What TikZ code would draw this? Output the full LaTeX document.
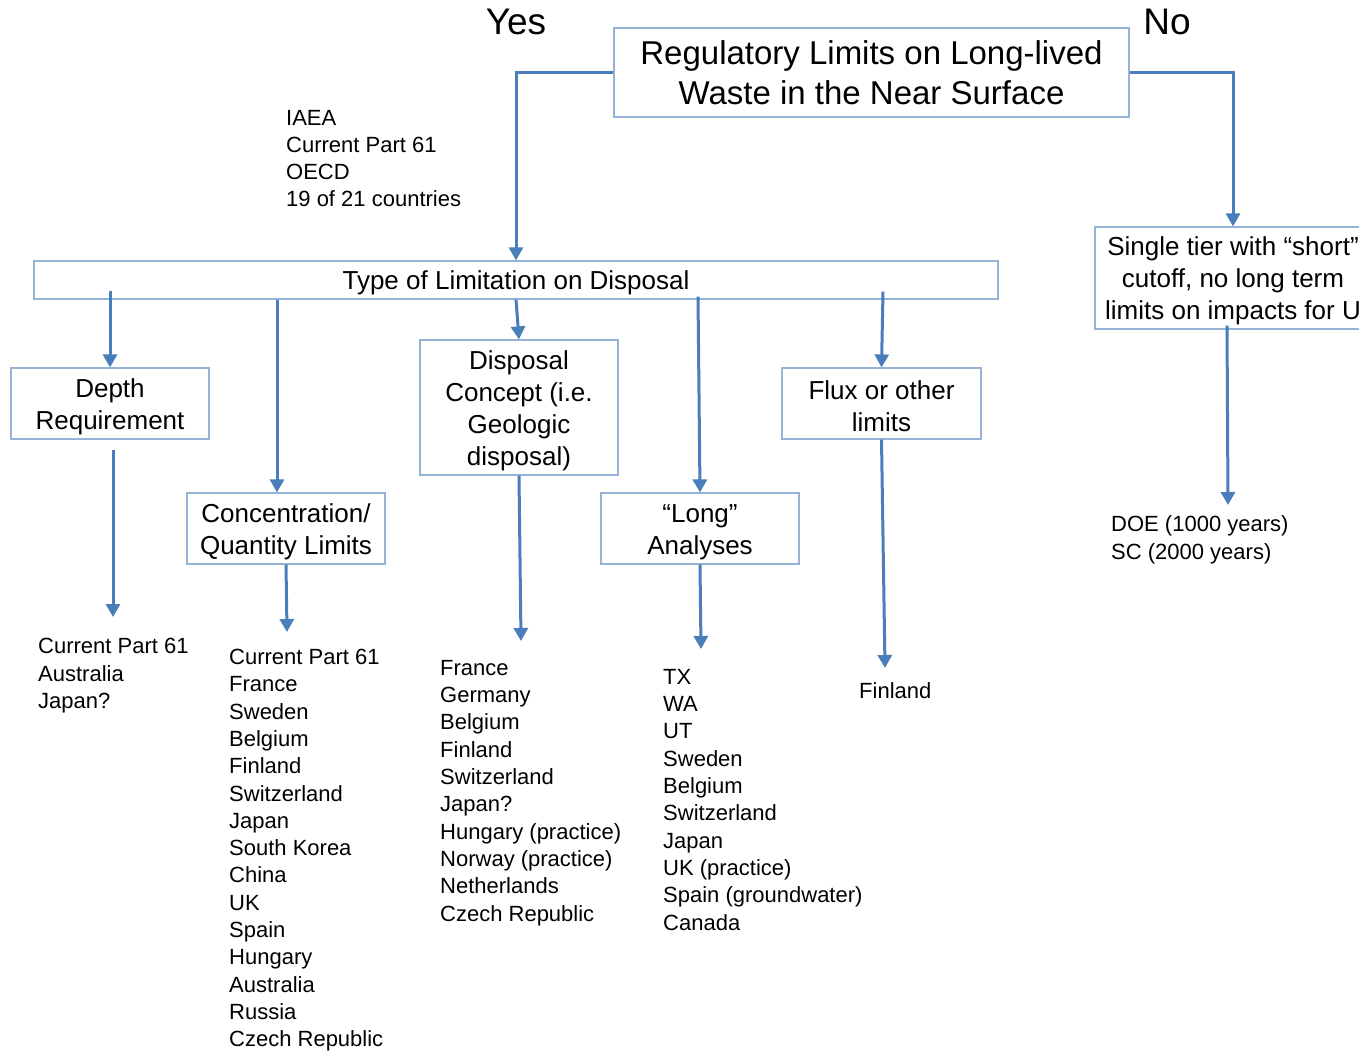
\documentclass[tikz,border=0pt]{standalone}
\usepackage{fontspec}
\setmainfont{Liberation Sans}
\usetikzlibrary{arrows.meta,calc}
\definecolor{boxc}{HTML}{95B3D7}
\definecolor{arrc}{HTML}{4A7EBB}
\newcommand{\tpad}{\rule{0pt}{25pt}}
\begin{document}
\begin{tikzpicture}[x=1pt,y=-1pt,
  box/.style={draw=boxc, line width=1.2pt, fill=white, inner sep=0pt, align=center,
    minimum width=198pt, minimum height=71pt, font=\fontsize{26}{32}\selectfont},
  lst/.style={anchor=north west, inner sep=0pt, align=left, font=\fontsize{22}{27.3}\selectfont},
  arr/.style={draw=arrc, line width=3pt, -{Triangle[width=14pt,length=13pt]}},
  big/.style={font=\fontsize{37}{44}\selectfont, inner sep=0pt}]
\useasboundingbox (0,0) rectangle (1359,1050);
\fill[white] (0,0) rectangle (1359,1050);
\clip (0,0) rectangle (1359,1050);

% labels
\node[big] (yes) at (516,22) {Yes};
\node[big] (no) at (1167,22) {No};

% boxes
\node[box, minimum width=515pt, minimum height=89pt, font=\fontsize{33}{40}\selectfont] (top) at (871.5,72.5)
  {Regulatory Limits on Long-lived\\Waste in the Near Surface};
\node[box, minimum width=964pt, minimum height=38pt] (type) at (516,280) {\tpad Type of Limitation on Disposal};
\node[box] (depth) at (110,403.5) {\tpad Depth\\Requirement};
\node[box] (conc) at (286,528.5) {\tpad Concentration/\\Quantity Limits};
\node[box, minimum height=135pt] (disp) at (519,407.5) {\tpad Disposal\\Concept (i.e.\\Geologic\\disposal)};
\node[box] (long) at (700,528.5) {\tpad “Long”\\Analyses};
\node[box, minimum width=199pt] (flux) at (881.5,403.5) {\tpad Flux or other\\limits};
\node[box, minimum width=276pt, minimum height=102pt] (single) at (1233,278)
  {\tpad Single tier with “short”\\cutoff, no long term\\limits on impacts for U};

% connectors
\draw[arr] (top.west) -| (type.north);
\draw[arr] (top.east) -| (single.north);
\draw[arr] ($(type.south -| depth.north)+(0,-9)$) -- (depth.north);
\draw[arr] ($(type.south -| conc.north)+(-9,0)$) -- ($(conc.north)+(-9,0)$);
\draw[arr] ($(type.south -| disp.north)+(-3,0)$) -- (disp.north);
\draw[arr] ($(type.south -| long.north)+(-2,-3)$) -- (long.north);
\draw[arr] ($(type.south -| flux.north)+(1.5,-8)$) -- (flux.north);

\coordinate (e1) at (113,617);
\coordinate (e2) at (287,632);
\coordinate (e3) at (521,641);
\coordinate (e4) at (701,649);
\coordinate (e5) at (885,668);
\coordinate (e6) at (1228,505);
\draw[arr] ($(depth.south -| e1)+(0,10)$) -- (e1);
\draw[arr] (conc.south) -- (e2);
\draw[arr] (disp.south) -- (e3);
\draw[arr] (long.south) -- (e4);
\draw[arr] (flux.south) -- (e5);
\draw[arr] ($(single.south -| e6)+(-1,-4)$) -- (e6);

% lists
\node[lst, font=\fontsize{22}{27}\selectfont] (iaea) at (286,110) {IAEA\\Current Part 61\\OECD\\19 of 21 countries};
\node[lst, font=\fontsize{22}{27.5}\selectfont] (ldepth) at (38,638) {Current Part 61\\Australia\\Japan?};
\node[lst] (lconc) at (229,649) {Current Part 61\\France\\Sweden\\Belgium\\Finland\\Switzerland\\Japan\\South Korea\\China\\UK\\Spain\\Hungary\\Australia\\Russia\\Czech Republic};
\node[lst] (ldisp) at (440,660) {France\\Germany\\Belgium\\Finland\\Switzerland\\Japan?\\Hungary (practice)\\Norway (practice)\\Netherlands\\Czech Republic};
\node[lst] (llong) at (663,669) {TX\\WA\\UT\\Sweden\\Belgium\\Switzerland\\Japan\\UK (practice)\\Spain (groundwater)\\Canada};
\node[lst] (lflux) at (859,682) {Finland};
\node[lst, font=\fontsize{22}{28}\selectfont] (ldoe) at (1111,515) {DOE (1000 years)\\SC (2000 years)};
\end{tikzpicture}
\end{document}
